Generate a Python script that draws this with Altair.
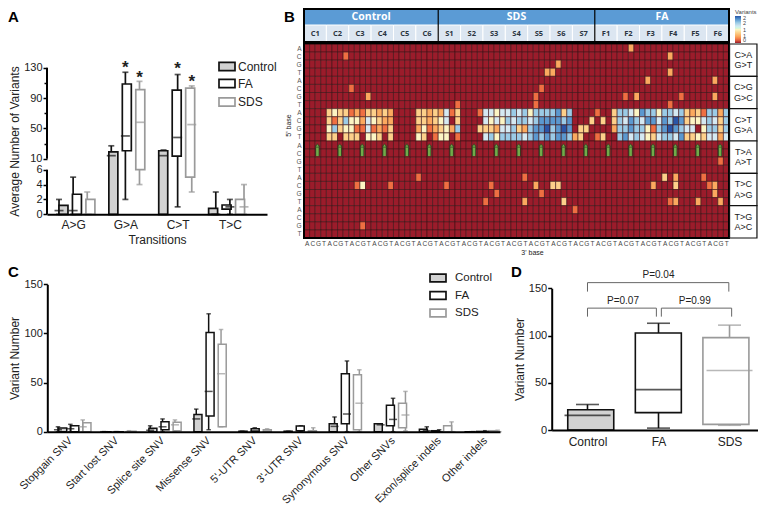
import altair as alt
import pandas as pd

W, H = 750, 499
FONT = "Liberation Sans"
INK = "#222222"
SERIES = ["Control", "FA", "SDS"]
STROKES = ["#111111", "#111111", "#9a9a9a"]
FILLS = ["#d2d2d2", "#ffffff", "#ffffff"]

# Panel A ------------------------------------------------------------
A_CATS = ["A>G", "G>A", "C>T", "T>C"]
A_LOW = {"Control": [0, 0, 0, 0], "FA": [0, 2, 1, 0], "SDS": [0, 4, 3, 0]}
A_Q1 = {"Control": [0, 0, 0, 0], "FA": [0, 20.5, 13.5, 0.7], "SDS": [0, 6, 5, 0]}
A_MED = {"Control": [0.5, 14, 14, 0], "FA": [0.5, 40, 38, 1], "SDS": [0, 58, 55, 1]}
A_Q3 = {"Control": [1.2, 19, 20.5, 0.8], "FA": [2.7, 108.5, 100.5, 1.25], "SDS": [2, 101, 103, 2]}
A_HIGH = {"Control": [2, 27, 21.5, 3], "FA": [5, 124, 121, 2], "SDS": [3, 112, 106, 4]}
A_STAR_POS = [1, 1.27, 2, 2.27]
A_STAR_VAL = [135, 122, 133, 117]

# Panel C ------------------------------------------------------------
C_CATS = ["Stopgain SNV", "Start lost SNV", "Splice site SNV", "Missense SNV", "5'-UTR SNV",
          "3'-UTR SNV", "Synonymous SNV", "Other SNVs", "Exon/splice indels", "Other indels"]
C_LOW = {"Control": [0, 0, 0, 0, 0, 0, 0, 0, 0, 0],
         "FA": [0, 0, 0, 2, 0, 0, 0, 0, 0, 0],
         "SDS": [0, 0, 0, 5, 0, 0, 0, 1, 0, 0]}
C_Q1 = {"Control": [0, 0, 0, 0, 0, 0, 0, 0, 0, 0],
        "FA": [0, 0, 2, 16, 0, 1, 8, 6, 0, 0],
        "SDS": [0, 0, 1, 5, 0, 0, 2, 4, 0, 0]}
C_MED = {"Control": [2, 0, 1.5, 13, 0, 0, 5.4, 7, 1, 0],
         "FA": [3, 0, 5, 41, 1, 1, 18, 12.5, 0, 0],
         "SDS": [5, 0, 7, 59, 1, 0, 29, 17, 0, 0]}
C_Q3 = {"Control": [3.7, 0, 3.5, 17.6, 0.5, 0.5, 8, 8, 2.4, 0],
        "FA": [6, 0, 10, 101, 3, 5.7, 59, 27, 1, 0.3],
        "SDS": [9, 0.5, 9.5, 89, 2, 1, 58, 29, 6, 1]}
C_HIGH = {"Control": [5, 0, 6, 23, 0.5, 0.5, 15, 8, 5, 0],
          "FA": [7.5, 0, 13, 120, 4, 6, 72, 34, 2, 1],
          "SDS": [12, 1, 12, 104, 3, 4, 63, 41, 10, 1.5]}

# Panel D ------------------------------------------------------------
D_LOW = [0, 2, 5]
D_Q1 = [0, 18.4, 6]
D_MED = [15.5, 42.7, 63]
D_Q3 = [21.5, 102.7, 97.8]
D_HIGH = [27, 113, 111]
D_BRACKETS = [("P=0.04", 0.0, 1.99, 156, 146.5, 1.0, 164),
              ("P=0.07", 0.0, 0.97, 129, 120, 0.5, 137),
              ("P=0.99", 1.04, 2.03, 129, 120, 1.51, 137)]

# Panel B ------------------------------------------------------------
SAMPLES = ["C1", "C2", "C3", "C4", "C5", "C6", "S1", "S2", "S3", "S4", "S5", "S6", "S7",
           "F1", "F2", "F3", "F4", "F5", "F6"]
GROUPS = [("Control", 0, 24), ("SDS", 24, 52), ("FA", 52, 76)]
MUT_TYPES = [("C>A", "G>T"), ("C>G", "G>C"), ("C>T", "G>A"), ("T>A", "A>T"), ("T>C", "A>G"), ("T>G", "A>C")]
BASES = ["A", "C", "G", "T"]
# digits are quarters of a variant (0..8 -> 0..2)
ROW_8 = "0000 3433 1213 3232 0000 3323 2513 0001 5545 5656 4666 6736 0000 1003 6654 7664 6656 3231 6626"
ROW_9 = "0000 3136 4425 4322 0000 3323 4503 0000 5454 6566 5677 7767 0003 0303 6576 5775 7687 3445 6536"
ROW_10 = "0000 4634 4115 1213 0000 2412 3426 0003 3325 5632 6778 6787 0330 0002 6676 6416 7876 5504 6636"
ROW_11 = "0000 3303 3304 4303 0000 4301 4401 0000 5646 6665 6767 6776 2300 1300 6756 5435 6657 3343 5525"
SPARSE = [(1, 7, 1), (5, 8, 1), (6, 11, 2), (7, 27, 1), (0, 58, 2), (1, 65, 2), (2, 45, 2), (3, 43, 2), (3, 44, 2),
          (3, 65, 2), (4, 61, 2), (4, 73, 2), (5, 42, 1), (6, 41, 1), (7, 41, 1), (6, 57, 1), (6, 59, 2), (6, 67, 1),
          (6, 73, 2), (7, 65, 1), (14, 74, 1), (16, 20, 1), (16, 39, 1), (16, 64, 3), (16, 66, 2), (16, 71, 1),
          (17, 9, 1), (17, 10, 4), (17, 15, 1), (17, 25, 1), (17, 33, 1), (17, 41, 2), (17, 44, 3), (17, 45, 3),
          (17, 62, 2), (17, 66, 3), (17, 72, 1), (17, 73, 2), (18, 34, 1), (18, 42, 1), (18, 73, 2), (19, 32, 1),
          (19, 39, 2), (19, 46, 3), (19, 65, 1), (19, 66, 2), (19, 70, 2), (19, 74, 2), (20, 48, 1), (22, 10, 1)]
ARROW_COLS = [2.4, 6.4, 10.4, 14.4, 18.4, 22.4, 26.4, 30.4, 34.4, 38.4, 42.4, 46.4, 50.4, 54.4, 58.4, 62.4, 66.4, 70.4, 74.4]
HEAT_STOPS = [0, 0.25, 0.5, 0.75, 1, 1.25, 1.5, 1.75, 2]
HEAT_COLORS = ["#9b1c2b", "#ef6f42", "#fba95f", "#fdd08a", "#fcf5c4", "#d5e9f2", "#9bcbe6", "#5b98cf", "#2a55a6"]


def P(v):
    return v - 8


def scale(domain, a, b):
    return alt.Scale(type="linear", domain=domain, range=[P(a), P(b)], nice=False, zero=False)


def off_left(px):
    return -P(px)


def off_bottom(py):
    return P(py) - H


AX = dict(labelFont=FONT, titleFont=FONT, labelColor=INK, titleColor=INK, titleFontWeight="normal",
          grid=False, zindex=1, domainColor="#000000", tickColor="#000000")


def hidden(xs, ys, xaxis=None, yaxis=None, xv=0, yv=0):
    df = pd.DataFrame({"a": [xv], "b": [yv]})
    return alt.Chart(df).mark_point(opacity=0).encode(
        x=alt.X("a:Q", scale=xs, axis=xaxis, title=None),
        y=alt.Y("b:Q", scale=ys, axis=yaxis, title=None))


def box_frame(low, q1, med, q3, high, cats_n, dodge):
    rows = []
    for s_i, s in enumerate(SERIES):
        for i in range(cats_n):
            rows.append(dict(series=s, pos=i + (s_i - 1) * dodge, lo=low[s][i], q1=q1[s][i], med=med[s][i],
                             q3=q3[s][i], hi=high[s][i]))
    return pd.DataFrame(rows)


def box_layers(df, xs, ys, size, cap, sw):
    x = alt.X("pos:Q", scale=xs, axis=None, title=None)
    col = alt.Color("series:N", scale=alt.Scale(domain=SERIES, range=STROKES), legend=None)
    stroke = alt.Stroke("series:N", scale=alt.Scale(domain=SERIES, range=STROKES), legend=None)
    fill = alt.Fill("series:N", scale=alt.Scale(domain=SERIES, range=FILLS), legend=None)
    b = alt.Chart(df)

    def yy(f):
        return alt.Y(f + ":Q", scale=ys, axis=None, title=None)

    return [
        b.mark_rule(strokeWidth=sw).encode(x=x, y=yy("lo"), y2=alt.Y2("hi:Q"), color=col),
        b.mark_tick(orient="horizontal", size=cap, thickness=sw).encode(x=x, y=yy("hi"), color=col),
        b.mark_tick(orient="horizontal", size=cap, thickness=sw).encode(x=x, y=yy("lo"), color=col),
        b.mark_bar(size=size, strokeWidth=sw).encode(x=x, y=yy("q1"), y2=alt.Y2("q3:Q"), fill=fill, stroke=stroke),
        b.mark_tick(orient="horizontal", size=size, thickness=sw).encode(x=x, y=yy("med"), color=col),
    ]


def legend_layers(x0, x1, ys, hh, tx, fs):
    out = []
    for s, f, st, yc in zip(SERIES, FILLS, STROKES, ys):
        one = pd.DataFrame({"name": [s]})
        out.append(alt.Chart(one).mark_rect(fill=f, stroke=st, strokeWidth=1.7).encode(
            x=alt.value(P(x0)), x2=alt.value(P(x1)), y=alt.value(P(yc - hh)), y2=alt.value(P(yc + hh))))
        out.append(alt.Chart(one).mark_text(font=FONT, fontSize=fs, color=INK, align="left", baseline="middle").encode(
            x=alt.value(P(tx)), y=alt.value(P(yc)), text="name:N"))
    return out


def letter(ch, px, py):
    return alt.Chart(pd.DataFrame({"t": [ch]})).mark_text(
        font=FONT, fontSize=15, fontWeight="bold", color="#000000", align="left", baseline="middle").encode(
        x=alt.value(P(px)), y=alt.value(P(py)), text="t:N")


layers = []

# ---------- A
xa = scale([-0.5, 3.71], 47, 267)
ya = alt.Scale(type="linear", domain=[0, 6, 10, 130], range=[P(214.3), P(169.7), P(158.7), P(67.7)], nice=False, zero=False)
A_df = box_frame(A_LOW, A_Q1, A_MED, A_Q3, A_HIGH, 4, 0.27)
layers += box_layers(A_df, xa, ya, 9, 6, 1.7)
stars = pd.DataFrame({"p": A_STAR_POS, "v": A_STAR_VAL, "t": ["*"] * 4})
layers.append(alt.Chart(stars).mark_text(font=FONT, fontSize=17, fontWeight="bold", color=INK, dy=4, baseline="middle").encode(
    x=alt.X("p:Q", scale=xa, axis=None), y=alt.Y("v:Q", scale=ya, axis=None), text="t:N"))
seg = pd.DataFrame({"a": [0, 10], "b": [6, 130]})
layers.append(alt.Chart(seg).mark_rule(strokeWidth=2, color="#000000").encode(
    x=alt.value(P(47)), y=alt.Y("a:Q", scale=ya, axis=None), y2=alt.Y2("b:Q")))
layers.append(hidden(xa, ya, yaxis=alt.Axis(orient="left", values=[0, 2, 4, 6, 10, 50, 90, 130], offset=off_left(47), domain=False,
                                            tickSize=4, tickWidth=1.5, labelFontSize=11, labelPadding=1,
                                            title="Average Number of Variants", titleFontSize=12, titleX=P(14) - P(47),
                                            titleY=P(141), titleBaseline="middle", titleAlign="center", **AX)))
layers.append(hidden(xa, ya, yaxis=alt.Axis(orient="left", values=[30, 70, 110], offset=off_left(47), domain=False, labels=False,
                                            tickSize=3, tickWidth=1.5, title=None, grid=False, tickColor="#000000")))
layers.append(hidden(xa, ya, xaxis=alt.Axis(orient="bottom", values=[0, 1, 2, 3], offset=off_bottom(214.3), ticks=False, domainWidth=2,
                                            labelExpr="['A>G','G>A','C>T','T>C'][datum.value]", labelFontSize=12,
                                            labelPadding=5, title="Transitions", titleFontSize=12,
                                            titleX=P(157), titleY=239 - 214.3, titleBaseline="middle", **AX)))
layers += legend_layers(219, 235, [66.5, 83.5, 102], 4.2, 238, 12)
layers.append(letter("A", 8, 16.5))

# ---------- B
xh = scale([0, 76], 304, 729)
yh = scale([0, 24], 44, 238)
yb = alt.Scale(type="linear", domain=[0, 1, 2], range=[P(9), P(25), P(42)], nice=False, zero=False)
cells = []
digit_rows = {8: ROW_8, 9: ROW_9, 10: ROW_10, 11: ROW_11}
for r in range(24):
    vals = [0] * 76
    if r in digit_rows:
        vals = [int(ch) for ch in digit_rows[r].replace(" ", "")]
    for rr, cc, code in SPARSE:
        if rr == r:
            vals[cc] = code
    for c, v in enumerate(vals):
        cells.append(dict(c0=c, c1=c + 1, r0=r, r1=r + 1, v=v / 4))
cells = pd.DataFrame(cells)
layers.append(alt.Chart(cells).mark_rect(stroke="#3d1216", strokeWidth=0.6).encode(
    x=alt.X("c0:Q", scale=xh, axis=None), x2=alt.X2("c1:Q"),
    y=alt.Y("r0:Q", scale=yh, axis=None), y2=alt.Y2("r1:Q"),
    color=alt.Color("v:Q", scale=alt.Scale(domain=HEAT_STOPS, range=HEAT_COLORS),
                    legend=alt.Legend(title="Variants", orient="none", legendX=P(735), legendY=1,
                                      direction="vertical", gradientLength=27, gradientThickness=6,
                                      values=[0, 0.5, 1, 1.5, 2], labelOverlap=False, labelFont=FONT, labelFontSize=5.5,
                                      titleFont=FONT, titleFontSize=6, titleFontWeight="normal", titlePadding=1,
                                      labelColor="#444444", titleColor="#444444", labelOffset=2))))
# arrows
ar = pd.DataFrame({"c": ARROW_COLS, "a": [12.55] * 19, "b": [13.87] * 19})
arx = alt.X("c:Q", scale=xh, axis=None)
ary = alt.Y("a:Q", scale=yh, axis=None)
layers.append(alt.Chart(ar).mark_rule(strokeWidth=4.2, color="#2a3a1c").encode(x=arx, y=ary, y2=alt.Y2("b:Q")))
layers.append(alt.Chart(ar).mark_rule(strokeWidth=2.6, color="#71ab4a").encode(x=arx, y=ary, y2=alt.Y2("b:Q")))
layers.append(alt.Chart(ar).mark_point(shape="triangle-up", filled=True, size=16, fill="#71ab4a", stroke="#2a3a1c",
                                       strokeWidth=0.6, opacity=1).encode(x=arx, y=ary))
# header
head = pd.DataFrame([dict(name=n, a=a, b=b, mid=(a + b) / 2, y0=0, y1=1, yt=0.5) for n, a, b in GROUPS])
sub = pd.DataFrame([dict(name=n, a=i * 4, b=i * 4 + 4, mid=i * 4 + 2, y0=1, y1=2, yt=1.5) for i, n in enumerate(SAMPLES)])
for df, fillc, txtc, font, fs in [(head, "#5b9bd5", "#ffffff", "Open Sans", 10.5), (sub, "#dce6f1", "#2b3440", "Open Sans", 7.5)]:
    layers.append(alt.Chart(df).mark_rect(fill=fillc, stroke="#ffffff" if df is sub else "#5b9bd5", strokeWidth=1).encode(
        x=alt.X("a:Q", scale=xh, axis=None), x2=alt.X2("b:Q"),
        y=alt.Y("y0:Q", scale=yb, axis=None), y2=alt.Y2("y1:Q")))
    layers.append(alt.Chart(df).mark_text(font=font, fontSize=fs, fontWeight="bold", color=txtc, baseline="middle").encode(
        x=alt.X("mid:Q", scale=xh, axis=None), y=alt.Y("yt:Q", scale=yb, axis=None), text="name:N"))
dv = pd.DataFrame({"c": [24, 52], "a": [0, 0], "b": [2, 2]})
layers.append(alt.Chart(dv).mark_rule(strokeWidth=1.2, color="#000000").encode(
    x=alt.X("c:Q", scale=xh, axis=None), y=alt.Y("a:Q", scale=yb, axis=None), y2=alt.Y2("b:Q")))
# frames
frame = pd.DataFrame({"a": [0], "b": [76], "y0": [0], "y1": [2]})
layers.append(alt.Chart(frame).mark_rect(fillOpacity=0, fill="#ffffff", stroke="#000000", strokeWidth=2).encode(
    x=alt.X("a:Q", scale=xh, axis=None), x2=alt.X2("b:Q"),
    y=alt.Y("y0:Q", scale=yb, axis=None), y2=alt.Y2("y1:Q")))
frame2 = pd.DataFrame({"a": [0], "b": [76], "y0": [-0.1], "y1": [24]})
layers.append(alt.Chart(frame2).mark_rect(fillOpacity=0, fill="#ffffff", stroke="#000000", strokeWidth=2).encode(
    x=alt.X("a:Q", scale=xh, axis=None), x2=alt.X2("b:Q"),
    y=alt.Y("y0:Q", scale=yh, axis=None), y2=alt.Y2("y1:Q")))
# mutation type boxes
mt = pd.DataFrame([dict(a=76.1, b=81.0, y0=i * 4, y1=i * 4 + 4, top=t, bot=bt, mid=78.55, yt=i * 4 + 1.38, yb=i * 4 + 2.62)
                   for i, (t, bt) in enumerate(MUT_TYPES)])
layers.append(alt.Chart(mt).mark_rect(fill="#ffffff", stroke="#111111", strokeWidth=1.2).encode(
    x=alt.X("a:Q", scale=xh, axis=None), x2=alt.X2("b:Q"),
    y=alt.Y("y0:Q", scale=yh, axis=None), y2=alt.Y2("y1:Q")))
for fld, yf in [("top", "yt"), ("bot", "yb")]:
    layers.append(alt.Chart(mt).mark_text(font=FONT, fontSize=9, color=INK, baseline="middle").encode(
        x=alt.X("mid:Q", scale=xh, axis=None), y=alt.Y(yf + ":Q", scale=yh, axis=None), text=fld + ":N"))
BASE_EXPR = "['A','C','G','T'][floor(datum.value)%4]"
layers.append(hidden(xh, yh, yaxis=alt.Axis(orient="left", values=[r + 0.5 for r in range(24)], offset=off_left(304), domain=False,
                                            ticks=False, labelExpr=BASE_EXPR, labelFontSize=6.5, labelPadding=3,
                                            labelOverlap=False, labelColor="#555555", title="5' base", titleFontSize=7,
                                            titleFont=FONT, titleFontWeight="normal", titleColor=INK, titleX=288 - 304,
                                            titleY=P(125), titleBaseline="middle", grid=False)))
layers.append(hidden(xh, yh, xaxis=alt.Axis(orient="bottom", values=[c + 0.5 for c in range(76)], offset=off_bottom(238), domain=False,
                                            ticks=False, labelExpr=BASE_EXPR, labelFontSize=6.5, labelPadding=2,
                                            labelOverlap=False, labelColor="#444444", labelAngle=0, title="3' base",
                                            titleFontSize=7, titleFont=FONT, titleFontWeight="normal", titleColor=INK,
                                            titleX=P(532), titleY=14, titleBaseline="middle", grid=False)))
layers.append(letter("B", 284, 16.5))

# ---------- C
xc = scale([-0.5, 9.32], 47.3, 500)
yc = scale([0, 150], 431.7, 284.3)
C_df = box_frame(C_LOW, C_Q1, C_MED, C_Q3, C_HIGH, 10, 0.269)
layers += box_layers(C_df, xc, yc, 8, 4.5, 1.5)
cat_expr = "[" + ",".join('"' + c + '"' for c in C_CATS) + "][datum.value]"
layers.append(hidden(xc, yc, yaxis=alt.Axis(orient="left", values=[0, 50, 100, 150], offset=off_left(47.3), domainWidth=2, tickSize=4,
                                            tickWidth=1.5, labelFontSize=11, labelPadding=1, title="Variant Number",
                                            titleFontSize=12, titleX=P(14) - P(47.3), titleY=P(358),
                                            titleBaseline="middle", **AX)))
layers.append(hidden(xc, yc, xaxis=alt.Axis(orient="bottom", values=list(range(10)), offset=off_bottom(431.7), ticks=False, domainWidth=2,
                                            labelExpr=cat_expr, labelAngle=-45, labelAlign="right", labelBaseline="middle",
                                            labelFontSize=11, labelPadding=7, labelOverlap=False, title=None, **AX)))
layers += legend_layers(430, 446, [278, 295.5, 313], 3.8, 455, 11.5)
layers.append(letter("C", 8, 272))

# ---------- D
xd = scale([-0.504, 2.401], 551.7, 758)
yd = scale([0, 150], 430, 288.3)
D_df = pd.DataFrame({"series": SERIES, "pos": [0, 1, 2], "lo": D_LOW, "q1": D_Q1, "med": D_MED, "q3": D_Q3, "hi": D_HIGH})
layers += box_layers(D_df, xd, yd, 46, 23, 1.6)
segs = []
for label, xa0, xb0, ytop, yend, lx, ly in D_BRACKETS:
    segs += [dict(x0=xa0, x1=xb0, y0=ytop, y1=ytop), dict(x0=xa0, x1=xa0, y0=ytop, y1=yend), dict(x0=xb0, x1=xb0, y0=ytop, y1=yend)]
layers.append(alt.Chart(pd.DataFrame(segs)).mark_rule(strokeWidth=1, color="#666666").encode(
    x=alt.X("x0:Q", scale=xd, axis=None), x2=alt.X2("x1:Q"),
    y=alt.Y("y0:Q", scale=yd, axis=None), y2=alt.Y2("y1:Q")))
ptxt = pd.DataFrame([dict(t=b[0], x=b[5], y=b[6]) for b in D_BRACKETS])
layers.append(alt.Chart(ptxt).mark_text(font=FONT, fontSize=10, color=INK, baseline="middle").encode(
    x=alt.X("x:Q", scale=xd, axis=None), y=alt.Y("y:Q", scale=yd, axis=None), text="t:N"))
layers.append(hidden(xd, yd, yaxis=alt.Axis(orient="left", values=[0, 50, 100, 150], offset=off_left(551.7), domainWidth=2, tickSize=4,
                                            tickWidth=1.5, labelFontSize=11, labelPadding=1, title="Variant Number",
                                            titleFontSize=12, titleX=519 - 551.7, titleY=P(359),
                                            titleBaseline="middle", **AX)))
layers.append(hidden(xd, yd, xaxis=alt.Axis(orient="bottom", values=[0, 1, 2], offset=off_bottom(430), ticks=False, domainWidth=2,
                                            labelExpr="['Control','FA','SDS'][datum.value]", labelFontSize=12,
                                            labelPadding=6, title=None, **AX)))
layers.append(letter("D", 511, 272))

chart = alt.layer(*layers).resolve_scale(
    x="independent", y="independent", color="independent", fill="independent", stroke="independent"
).resolve_axis(x="independent", y="independent").properties(
    width=W, height=H, padding=0, autosize=alt.AutoSizeParams(type="none")
).configure_view(stroke=None)

chart.save("out.html", embed_options={"renderer": "svg", "actions": False})
